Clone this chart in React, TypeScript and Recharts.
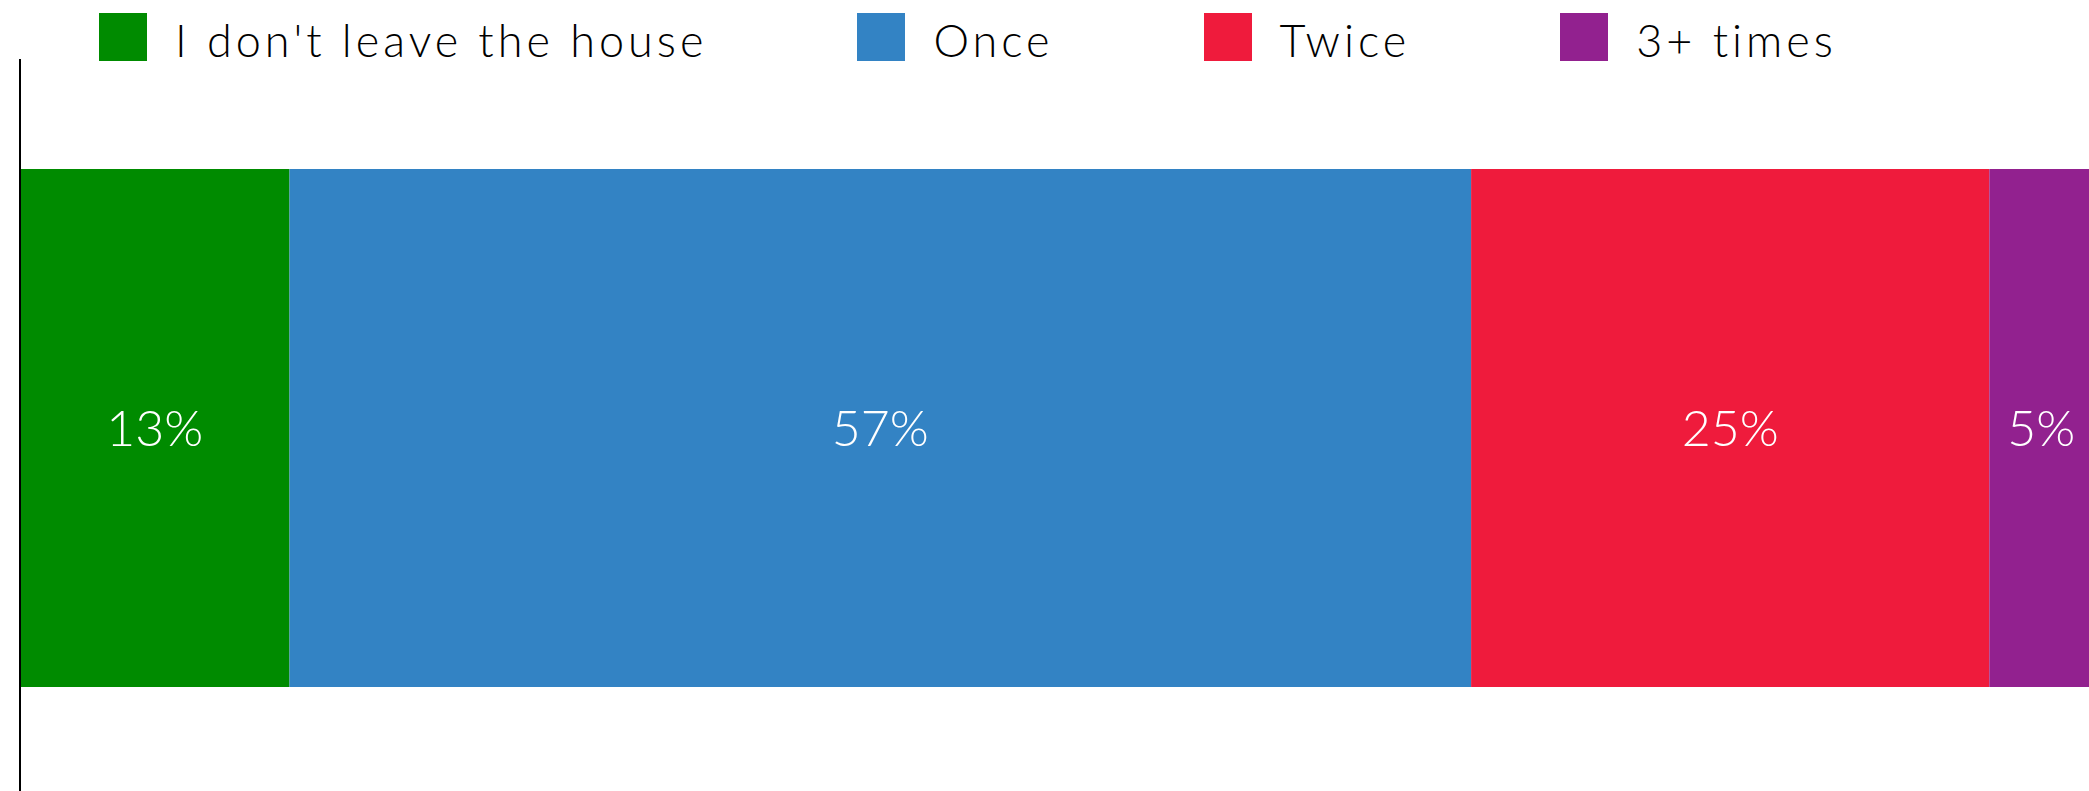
import { BarChart, Bar, XAxis, YAxis, Legend, LabelList } from "recharts";

const SERIES = ["I don't leave the house", "Once", "Twice", "3+ times"];
const VALUES = [13, 57, 25, 5];
const COLORS = ["#008b00", "#3383c4", "#ef1b3c", "#92218f"];

const FONT = "Lato, 'DejaVu Sans', sans-serif";

const row: Record<string, string | number> = { name: "Trips" };
SERIES.forEach((s, i) => { row[s] = VALUES[i]; });
const data = [row];

function renderLegend() {
  return (
    <div style={{ height: 59, display: "flex", alignItems: "flex-start", paddingLeft: 99, paddingTop: 13, boxSizing: "border-box", gap: 150 }}>
      {SERIES.map((s, i) => (
        <div key={s} style={{ display: "flex", alignItems: "center", height: 48, gap: 28 }}>
          <div style={{ width: 48, height: 48, background: COLORS[i], flex: "none" }} />
          <span style={{ fontFamily: FONT, fontWeight: 300, fontSize: 45, letterSpacing: 4, color: "#000", whiteSpace: "nowrap", lineHeight: "48px", paddingTop: 6 }}>{s}</span>
        </div>
      ))}
    </div>
  );
}

export default function App() {
  return (
    <div style={{ position: "absolute", left: 0, top: 0, width: 2089, height: 791, overflow: "hidden", background: "#fff" }}>
      <BarChart width={2093} height={800} data={data} layout="vertical" margin={{ top: 0, right: 0, bottom: 3, left: 0 }}>
        <Legend verticalAlign="top" align="left" content={renderLegend} />
        <XAxis type="number" domain={[0, 100]} hide />
        <YAxis type="category" dataKey="name" width={20} tick={false} tickLine={false} axisLine={{ stroke: "#000", strokeWidth: 2 }} />
        {SERIES.map((s, i) => (
          <Bar key={s} dataKey={s} stackId="a" fill={COLORS[i]} barSize={518} isAnimationActive={false}>
            <LabelList dataKey={s} position="center" fill="#fff" fontSize={50} fontWeight={300} fontFamily={FONT} formatter={(v: number) => `${v}%`} />
          </Bar>
        ))}
      </BarChart>
    </div>
  );
}
